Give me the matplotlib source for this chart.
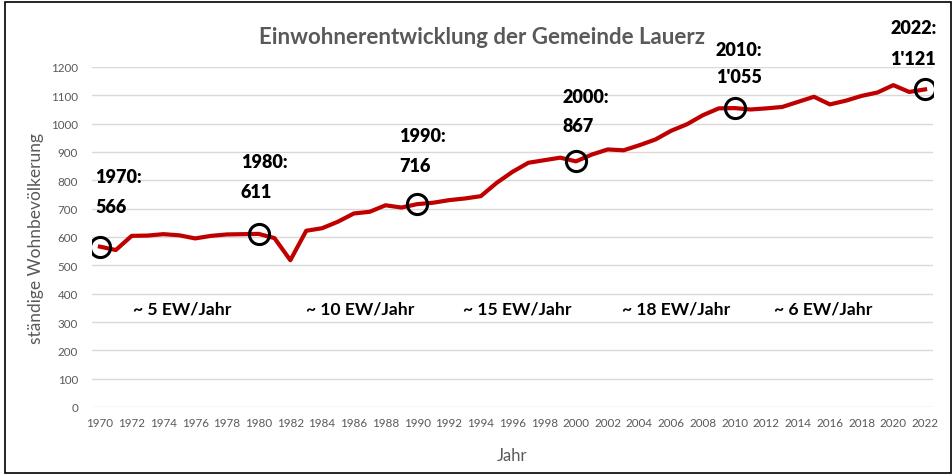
import matplotlib
matplotlib.use("Agg")
import matplotlib.pyplot as plt
from matplotlib.patches import Rectangle

years = list(range(1970, 2023))
population = [566, 554, 604, 605, 610, 606, 595, 604, 609, 610,
              611, 596, 518, 622, 631, 654, 683, 689, 712, 704,
              716, 721, 730, 736, 744, 791, 830, 862, 871, 880,
              867, 891, 909, 906, 924, 944, 975, 998, 1030, 1054,
              1055, 1050, 1054, 1059, 1077, 1095, 1068, 1081, 1098, 1110,
              1136, 1112, 1121]

marked_years = [1970, 1980, 1990, 2000, 2010, 2022]
marked_labels = ["566", "611", "716", "867", "1'055", "1'121"]

rate_labels = ["~ 5 EW/Jahr", "~ 10 EW/Jahr", "~ 15 EW/Jahr", "~ 18 EW/Jahr", "~ 6 EW/Jahr"]
rate_years = [1975.2, 1986.4, 1996.3, 2006.3, 2015.6]
rate_level = 346

title = "Einwohnerentwicklung der Gemeinde Lauerz"
xlabel = "Jahr"
ylabel = "ständige Wohnbevölkerung"
yticks = list(range(0, 1300, 100))
xticks = list(range(1970, 2023, 2))

plt.rcParams['font.family'] = ['Lato', 'DejaVu Sans']

W, H = 953, 477
fig = plt.figure(figsize=(W / 100, H / 100), dpi=100)
ax = fig.add_axes([92 / W, 1 - 408 / H, (933 - 92) / W, (408 - 68) / H])

ax.plot(years, population, color="#C00000", lw=3.0, solid_joinstyle="round", zorder=3)
marked_vals = [population[years.index(y)] for y in marked_years]
ax.plot(marked_years, marked_vals, linestyle="none", marker="o", ms=14.5,
        mfc="none", mec="black", mew=2.2, zorder=4)

ax.set_xlim(1969.5, 2022.5)
ax.set_ylim(0, 1200)
ax.set_yticks(yticks)
ax.set_xticks(xticks)
ax.set_xticklabels([str(x) for x in xticks])
ax.tick_params(axis="both", length=0, labelsize=8.4, colors="#595959")
ax.tick_params(axis="y", pad=10)
ax.tick_params(axis="x", pad=7)
ax.grid(axis="y", color="#d9d9d9", lw=1.0)
ax.set_axisbelow(True)
for s in ax.spines.values():
    s.set_visible(False)

ax.set_xlabel(xlabel, fontsize=12, color="#595959", labelpad=14)
ax.set_ylabel(ylabel, fontsize=12.5, color="#595959", labelpad=5)

fig.text(482 / W, 1 - 37 / H, title, ha="center", va="center",
         fontsize=16, fontweight="bold", color="#595959")

# annotation offsets in pixels (year label, value label)
offsets = {1970: (-5, 70, 40), 1980: (-18, 72, 42), 1990: (-18, 69, 39),
           2000: (-13, 65, 36), 2010: (-19, 59, 32), 2022: (-35, 62, 31)}
for yr, val, lab in zip(marked_years, marked_vals, marked_labels):
    dx, dy1, dy2 = offsets[yr]
    ax.annotate(f"{yr}:", xy=(yr, val), xytext=(dx, dy1), textcoords="offset pixels",
                ha="left", va="center", fontsize=13, fontweight="heavy", color="black",
                annotation_clip=False)
    ax.annotate(lab, xy=(yr, val), xytext=(dx, dy2), textcoords="offset pixels",
                ha="left", va="center", fontsize=13, fontweight="heavy", color="black",
                annotation_clip=False)

for lab, yr in zip(rate_labels, rate_years):
    ax.text(yr, rate_level, lab, ha="center", va="center", fontsize=12.6,
            fontweight="bold", color="black")

fig.patches.append(Rectangle((5 / W, 3 / H), (951 - 5) / W, (474 - 3) / H,
                             transform=fig.transFigure, fill=False,
                             edgecolor="black", lw=1.2))

fig.savefig("out.png", dpi=100)
